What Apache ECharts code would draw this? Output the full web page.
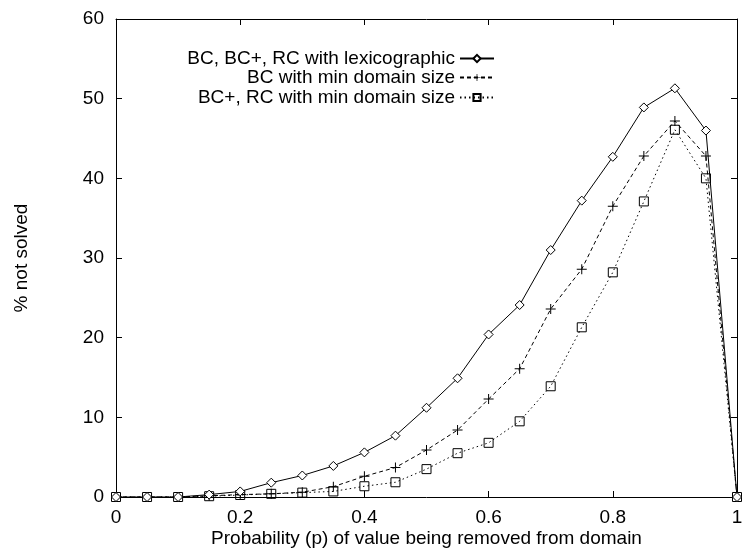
<!DOCTYPE html>
<html><head><meta charset="utf-8">
<script src="https://cdn.jsdelivr.net/npm/echarts@6/dist/echarts.min.js"></script>
<style>html,body{margin:0;padding:0;background:#fff}#c{width:742px;height:548px}</style>
</head><body><div id="c"></div>
<script>
const pValues = [0,0.05,0.1,0.15,0.2,0.25,0.3,0.35,0.4,0.45,0.5,0.55,0.6,0.65,0.7,0.75,0.8,0.85,0.9,0.95,1.0];
const lexName = 'BC, BC+, RC with lexicographic';
const bcMinName = 'BC with min domain size';
const bcpMinName = 'BC+, RC with min domain size';
const lexVals   = [0,0,0,0.3,0.7,1.8,2.7,3.9,5.6,7.7,11.2,14.9,20.4,24.1,31.0,37.2,42.7,48.9,51.3,46.0,0];
const bcMinVals = [0,0,0,0.15,0.3,0.4,0.6,1.3,2.6,3.7,5.9,8.4,12.3,16.1,23.6,28.6,36.5,42.8,47.2,42.8,0];
const bcpMinVals= [0,0,0,0.1,0.25,0.4,0.55,0.7,1.35,1.85,3.5,5.5,6.8,9.5,13.9,21.3,28.2,37.1,46.1,40.0,0];
const xTicks = [0,0.2,0.4,0.6,0.8,1];
const yTicks = [0,10,20,30,40,50,60];

const FONT = 'Liberation Sans';
const FS = 19;
const pair = (vals) => pValues.map((p,i)=>[p, vals[i]]);
const diamond = 'path://M0,-1L1,0L0,1L-1,0Z';
const plus = 'path://M-1,-0.1L-0.1,-0.1L-0.1,-1L0.1,-1L0.1,-0.1L1,-0.1L1,0.1L0.1,0.1L0.1,1L-0.1,1L-0.1,0.1L-1,0.1Z';

const chart = echarts.init(document.getElementById('c'), null, {renderer:'canvas'});
const axisCommon = {
  axisLine:{show:true, onZero:false, lineStyle:{color:'#000', width:1}},
  axisTick:{show:true, inside:true, length:6, lineStyle:{color:'#000'}},
  splitLine:{show:false}
};
function mkLegend(name, top){
  return {
    data:[name], orient:'vertical', right: 247, top: top,
    align:'right', itemWidth:34, itemHeight:9, itemGap:4, padding:0,
    textStyle:{fontFamily:FONT, fontSize:FS, color:'#000', padding:[0,0,0,0]},
    selectedMode:false
  };
}
chart.setOption({
  animation:false,
  backgroundColor:'#fff',
  grid:{left:116, right:5, top:19, bottom:51, outerBoundsMode:'none', containLabel:false},
  legend:[mkLegend(lexName,49), mkLegend(bcMinName,68), mkLegend(bcpMinName,88)],
  xAxis:[
    Object.assign({type:'value', min:0, max:1, interval:0.2, position:'bottom',
      axisLabel:{fontFamily:FONT, fontSize:FS, color:'#000', margin:11},
      name:'Probability (p) of value being removed from domain', nameLocation:'middle', nameGap:32,
      nameMoveOverlap:false,
      nameTextStyle:{fontFamily:FONT, fontSize:FS, color:'#000'}}, axisCommon),
    Object.assign({type:'value', min:0, max:1, interval:0.2, position:'top', axisLabel:{show:false}}, axisCommon)
  ],
  yAxis:[
    Object.assign({type:'value', min:0, max:60, interval:10, position:'left',
      axisLabel:{fontFamily:FONT, fontSize:FS, color:'#000', margin:12},
      name:'% not solved', nameLocation:'middle', nameGap:85, nameRotate:90,
      nameTextStyle:{fontFamily:FONT, fontSize:FS, color:'#000'}}, axisCommon),
    Object.assign({type:'value', min:0, max:60, interval:10, position:'right', axisLabel:{show:false}}, axisCommon)
  ],
  series:[
    {name:lexName, type:'line', data:pair(lexVals), symbol:diamond, symbolSize:9,
      lineStyle:{color:'#000', width:1, type:'solid'},
      itemStyle:{color:'#fff', borderColor:'#000', borderWidth:1}, z:3},
    {name:bcMinName, type:'line', data:pair(bcMinVals), symbol:plus, symbolSize:10,
      lineStyle:{color:'#000', width:1, type:[4,3]},
      itemStyle:{color:'#000', borderColor:'#000', borderWidth:0}, z:2},
    {name:bcpMinName, type:'line', data:pair(bcpMinVals), symbol:'rect', symbolSize:9,
      lineStyle:{color:'#000', width:1, type:[1.5,3]},
      itemStyle:{color:'rgba(255,255,255,0)', borderColor:'#000', borderWidth:1}, z:1}
  ]
});
</script></body></html>
